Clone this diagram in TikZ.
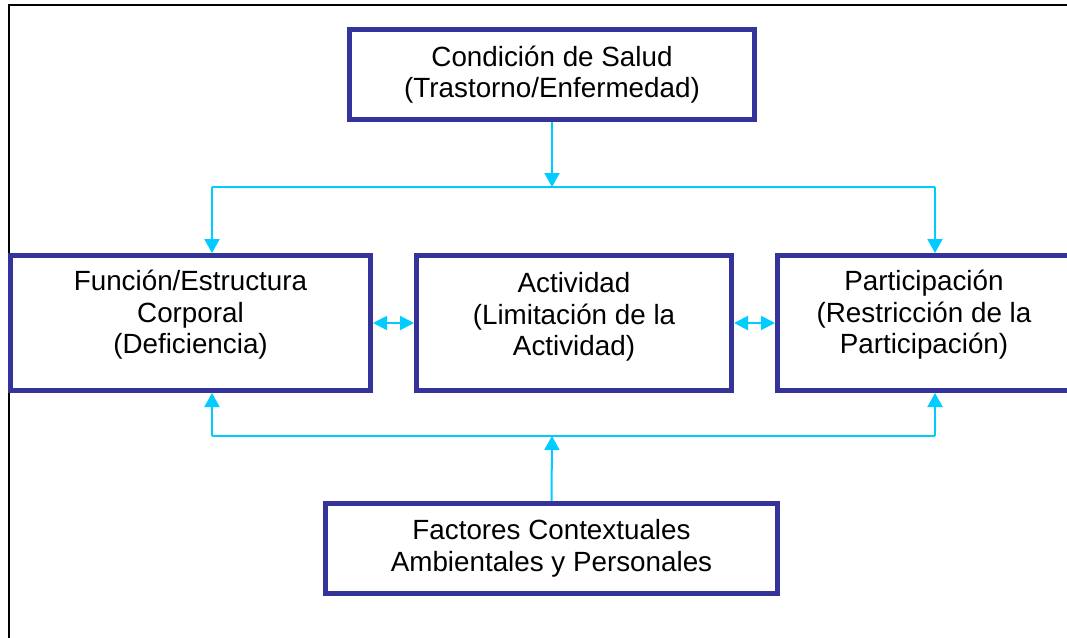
\documentclass[tikz,border=0pt]{standalone}
\usepackage{fontspec}
\setmainfont{Liberation Sans}
\usetikzlibrary{arrows.meta}
\definecolor{boxblue}{HTML}{333399}
\definecolor{linkcyan}{HTML}{00CCFF}
\begin{document}
\begin{tikzpicture}[x=1pt,y=-1pt,
  box/.style={draw=boxblue, line width=5pt, fill=white},
  txt/.style={align=center, font=\fontsize{27.8}{31.5}\selectfont, inner sep=0pt},
  link/.style={draw=linkcyan, line width=2pt},
  tip/.style={-{Triangle[length=14pt,width=15pt]}},
  dtip/.style={{Triangle[length=14pt,width=14pt]}-{Triangle[length=14pt,width=14pt]}}]
\clip (0,0) rectangle (1067,637);
% outer frame
\draw[line width=2.5pt] (9,645) -- (9,5) -- (1075,5);
% boxes
\node[box, txt, minimum width=405pt, minimum height=90pt] (salud) at (552,74.5)
  {Condición de Salud\\(Trastorno/Enfermedad)};
\node[box, minimum width=360pt, minimum height=135pt] (fun) at (190.5,323) {};
\node[box, minimum width=315pt, minimum height=135pt] (act) at (574,323) {};
\node[box, minimum width=293pt, minimum height=135pt] (par) at (924,323) {};
\node[box, txt, minimum width=452pt, minimum height=90pt] (fac) at (551.5,548.5)
  {Factores Contextuales\\Ambientales y Personales};
\node[txt] (funT) at (190.5,315) {Función/Estructura\\Corporal\\(Deficiencia)};
\node[txt] (actT) at (574,317) {Actividad\\(Limitación de la\\Actividad)};
\node[txt] (parT) at (924,315) {Participación\\(Restricción de la\\Participación)};
% junction coordinates
\coordinate (ju) at (552,187);
\coordinate (jul) at (212,187);
\coordinate (jur) at (935,187);
\coordinate (jd) at (552,436);
\coordinate (jdl) at (212,436);
\coordinate (jdr) at (935,436);
% connectors
\draw[link] (jul) -- (jur);
\draw[link,tip] (salud.south) -- (ju);
\draw[link,tip] (jul) -- (jul |- fun.north);
\draw[link,tip] (jur) -- (jur |- par.north);
\draw[link] (jdl) -- (jdr);
\draw[link,tip] (fac.north) -- (jd);
\draw[link,tip] (jdl) -- (jdl |- fun.south);
\draw[link,tip] (jdr) -- (jdr |- par.south);
\draw[link,dtip] (fun.east) -- (act.west);
\draw[link,dtip] (act.east) -- (par.west);
\end{tikzpicture}
\end{document}
